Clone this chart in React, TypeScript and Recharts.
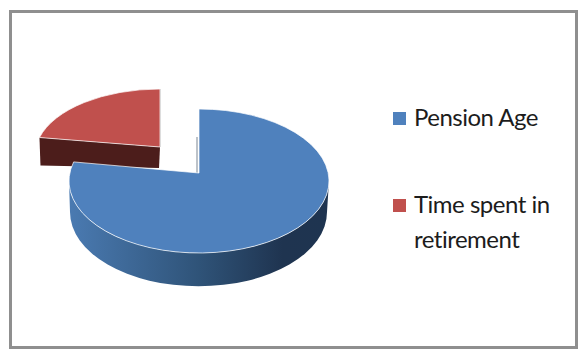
import { Legend, Pie, PieChart } from 'recharts';

const categories = ['Pension Age', 'Time spent in retirement'];
const years = [65, 17];
const faceColors = ['#4f81bd', '#c0504d'];

const total = years[0] + years[1];
// Blue starts at 12 o'clock, so the red slice (drawn first, underneath) starts just before it
const startAngle = 90 + (years[1] / total) * 360;

// Reversed so that the blue slice paints over the red wall
const sectors = [
  { name: categories[1], value: years[1], fill: faceColors[1] },
  { name: categories[0], value: years[0], fill: faceColors[0] },
];

const FONT = 'Lato, Carlito, sans-serif';

const arcPoint = (cx: number, cy: number, rx: number, ry: number, angle: number) => {
  const rad = (angle * Math.PI) / 180;
  return [cx + rx * Math.cos(rad), cy - ry * Math.sin(rad)];
};

// Pie slices tilted into ellipses, with a side wall below the face
const TiltedSector = (props: any) => {
  const { cx, cy, outerRadius, startAngle: a0, endAngle: a1, fill, payload } = props;
  const exploded = payload.name === categories[1];

  const x = exploded ? cx - 39 : cx;
  const y = exploded ? cy - 26 : cy;
  const rx = exploded ? outerRadius - 5 : outerRadius;
  const ry = exploded ? 66 : 72;
  const apex = [x, y - 8];

  const [sx, sy] = arcPoint(x, y, rx, ry, a0);
  const [ex, ey] = arcPoint(x, y, rx, ry, a1);
  const large = Math.abs(a0 - a1) > 180 ? 1 : 0;
  const face = `M${apex[0]} ${apex[1]} L${sx} ${sy} A${rx} ${ry} 0 ${large} 1 ${ex} ${ey} Z`;

  if (exploded) {
    const wall = `M${sx} ${sy} L${apex[0]} ${apex[1]} L${apex[0] - 1} ${apex[1] + 21} L${sx + 1} ${sy + 28} Z`;
    return (
      <g>
        <path d={wall} fill="#4c1d1b" />
        <path d={`M${ex} ${ey} L${apex[0]} ${apex[1]}`} stroke="#b9b9b9" strokeWidth={1.5} />
        <path d={face} fill={fill} stroke="#ffffff" strokeOpacity={0.7} strokeWidth={1} />
      </g>
    );
  }

  const side =
    `M${x + rx} ${y} A${rx} ${ry} 0 0 1 ${x - rx} ${y} ` +
    `L${x - rx + 1} ${y + 31} A${rx - 2} 74 0 0 0 ${x + rx - 2} ${y + 31} Z`;

  return (
    <g>
      <path d={side} fill="url(#blueSide)" />
      <path d={`M${apex[0] - 2} ${apex[1]} L${sx - 2} ${sy + 28}`} stroke="#8f9aa6" strokeWidth={1.2} />
      <path d={face} fill={fill} stroke="#ffffff" strokeOpacity={0.7} strokeWidth={1} />
    </g>
  );
};

const renderLegend = () => (
  <div style={{ position: 'relative', width: 578, height: 349, fontFamily: FONT, color: '#1c1c1c' }}>
    {categories.map((name, i) => (
      <div key={name}>
        <span
          style={{
            position: 'absolute',
            left: 393,
            top: i === 0 ? 112 : 199,
            width: 13,
            height: 13,
            background: faceColors[i],
          }}
        />
        <div
          style={{
            position: 'absolute',
            left: 414,
            top: i === 0 ? 99 : 186,
            width: 150,
            fontSize: 24,
            letterSpacing: -0.5,
            lineHeight: '35px',
          }}
        >
          {name}
        </div>
      </div>
    ))}
  </div>
);

export default function App() {
  return (
    <div style={{ position: 'absolute', left: 0, top: 0, width: 578, height: 349, overflow: 'hidden', background: '#ffffff' }}>
      <div
        style={{
          position: 'absolute',
          left: 9,
          top: 10,
          width: 569,
          height: 339,
          boxSizing: 'border-box',
          border: '3px solid #8f8f8f',
        }}
      />
      <PieChart width={578} height={349} margin={{ top: 0, right: 0, bottom: 0, left: 0 }}>
        <defs>
          <linearGradient id="blueSide" gradientUnits="userSpaceOnUse" x1={70} y1={0} x2={329} y2={0}>
            <stop offset="0" stopColor="#4a7ab1" />
            <stop offset="0.5" stopColor="#2f5378" />
            <stop offset="0.82" stopColor="#1f3450" />
            <stop offset="1" stopColor="#1e3450" />
          </linearGradient>
        </defs>
        <Pie
          data={sectors}
          dataKey="value"
          nameKey="name"
          cx={199}
          cy={181}
          outerRadius={130}
          startAngle={startAngle}
          endAngle={startAngle - 360}
          stroke="none"
          shape={TiltedSector}
          isAnimationActive={false}
        />
        <Legend content={renderLegend} wrapperStyle={{ position: 'absolute', left: 0, top: 0, width: 578, height: 349, pointerEvents: 'none' }} />
      </PieChart>
    </div>
  );
}
